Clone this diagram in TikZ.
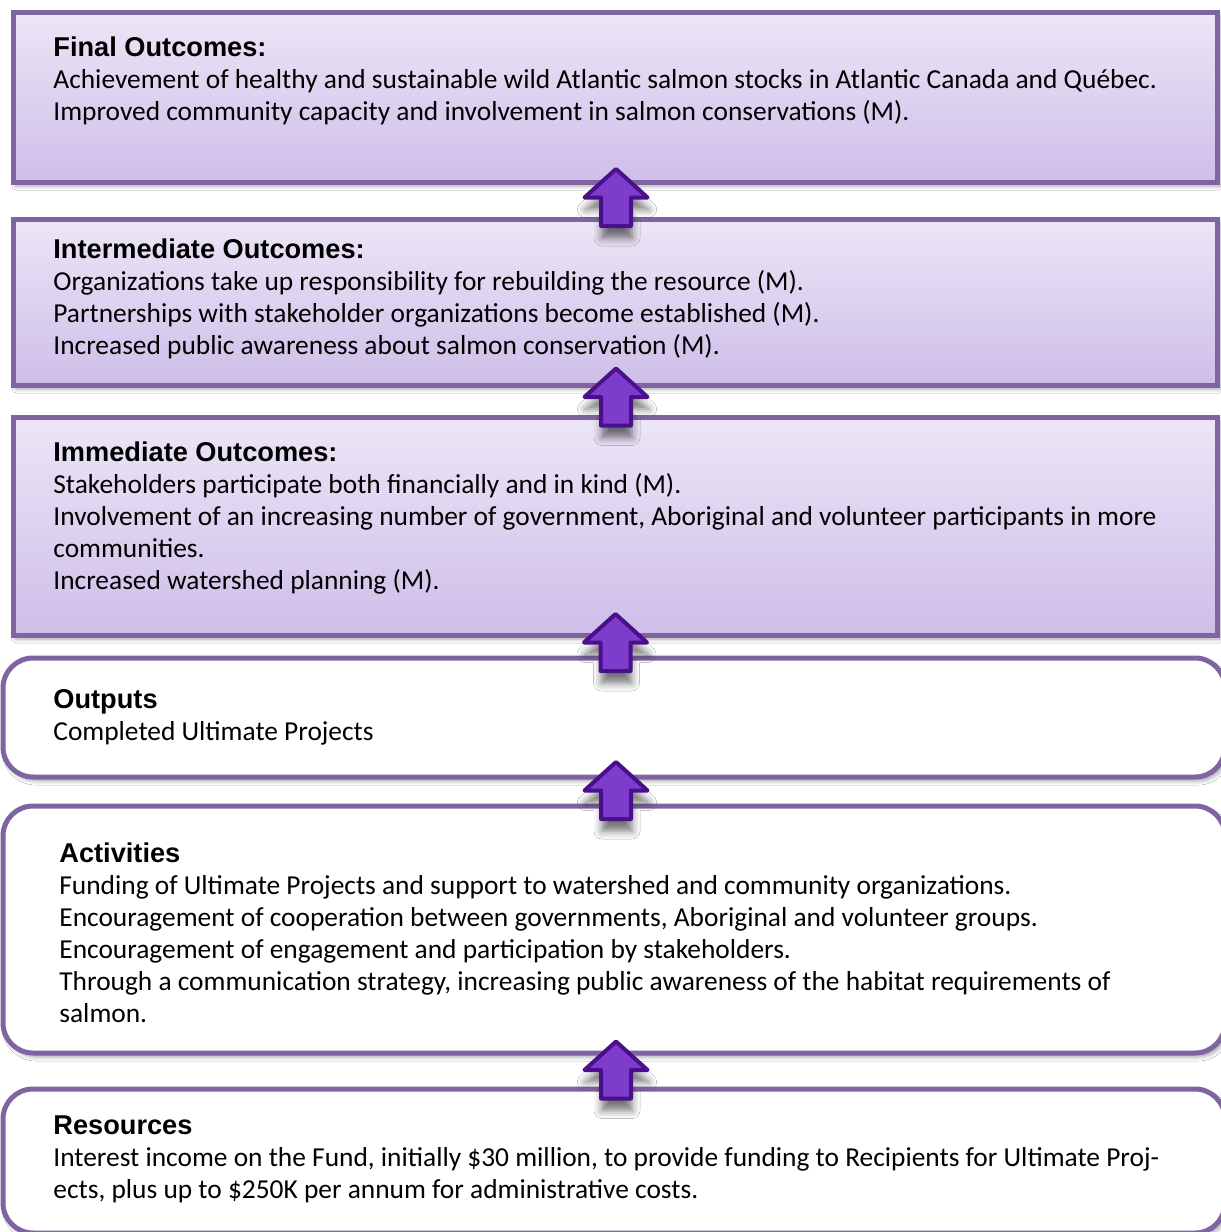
\documentclass[tikz,border=0pt]{standalone}
\usepackage{fontspec}
\setmainfont{Carlito}
\newfontfamily\hdfont{Liberation Sans}
\usetikzlibrary{calc,shadows.blur}
\definecolor{bord}{RGB}{128,100,162}
\definecolor{gtop}{RGB}{236,230,246}
\definecolor{gbot}{RGB}{206,190,233}
\definecolor{arrfill}{RGB}{126,60,204}
\definecolor{arrdraw}{RGB}{74,16,140}
\newcommand{\hd}[1]{{\hdfont\bfseries\fontsize{13.6}{16}\selectfont #1}}
\begin{document}
\begin{tikzpicture}[x=0.5pt,y=-0.5pt]
\tikzset{
  outbox/.style={draw=bord, line width=2.5pt, top color=gtop, bottom color=gbot, inner sep=0pt,
    blur shadow={shadow xshift=1.5pt, shadow yshift=-2pt, shadow blur radius=2pt, shadow opacity=35}},
  roundbox/.style={draw=bord, line width=2.5pt, fill=white, rounded corners=15pt, inner sep=0pt,
    blur shadow={shadow xshift=1.5pt, shadow yshift=-2pt, shadow blur radius=2pt, shadow opacity=35}},
  txt/.style={anchor=base west, align=left, inner sep=0pt, font=\fontsize{13.7}{16}\selectfont},
  blockarrow/.style={draw=arrdraw, fill=arrfill, line width=2pt, line join=round,
    blur shadow={shadow xshift=0.5pt, shadow yshift=-6pt, shadow blur radius=4pt, shadow opacity=55}},
}
\useasboundingbox (0,0) rectangle (1221,1232);
\clip (0,0) rectangle (1221,1232);
\fill[white] (0,0) rectangle (1221,1232);

% boxes
\node[outbox, minimum width=602pt, minimum height=85pt] (fin) at (615,97) {};
\node[outbox, minimum width=602pt, minimum height=83pt] (int) at (615,302) {};
\node[outbox, minimum width=602pt, minimum height=109pt] (imm) at (615,526) {};
\node[roundbox, minimum width=611pt, minimum height=59.5pt] (out) at (614,717.5) {};
\node[roundbox, minimum width=611pt, minimum height=123.5pt] (act) at (614,929.5) {};
\node[roundbox, minimum width=611pt, minimum height=72pt] (res) at (614,1161) {};

% texts (anchored at the baseline of the last line)
\node[txt] (t1) at (53,120) {\hd{Final Outcomes:}\\
Achievement of healthy and sustainable wild Atlantic salmon stocks in Atlantic Canada and Québec.\\
Improved community capacity and involvement in salmon conservations (M).};
\node[txt] (t2) at (53,354) {\hd{Intermediate Outcomes:}\\
Organizations take up responsibility for rebuilding the resource (M).\\
Partnerships with stakeholder organizations become established (M).\\
Increased public awareness about salmon conservation (M).};
\node[txt] (t3) at (53,589) {\hd{Immediate Outcomes:}\\
Stakeholders participate both financially and in kind (M).\\
Involvement of an increasing number of government, Aboriginal and volunteer participants in more\\
communities.\\
Increased watershed planning (M).};
\node[txt] (t4) at (53,740) {\hd{Outputs}\\
Completed Ultimate Projects};
\node[txt] (t5) at (59,1022) {\hd{Activities}\\
Funding of Ultimate Projects and support to watershed and community organizations.\\
Encouragement of cooperation between governments, Aboriginal and volunteer groups.\\
Encouragement of engagement and participation by stakeholders.\\
Through a communication strategy, increasing public awareness of the habitat requirements of\\
salmon.};
\node[txt] (t6) at (53,1198) {\hd{Resources}\\
Interest income on the Fund, initially \$30 million, to provide funding to Recipients for Ultimate Proj-\\
ects, plus up to \$250K per annum for administrative costs.};

% arrow anchor points, between consecutive boxes
\coordinate (a1) at ($($(fin.south)!0.5!(int.north)$)+(1,-3)$);
\coordinate (a2) at ($($(int.south)!0.5!(imm.north)$)+(1,-4)$);
\coordinate (a3) at ($($(imm.south)!0.5!(out.north)$)+(1,-4)$);
\coordinate (a4) at ($($(out.south)!0.5!(act.north)$)+(2,-1)$);
\coordinate (a5) at ($($(act.south)!0.5!(res.north)$)+(2,-1)$);
\foreach \c in {a1,a2,a3,a4,a5}{
  \draw[blockarrow] (\c) ++(-15,28.5) -- ++(0,-28.5) -- ++(-16.5,0) -- ++(31.5,-28.5)
    -- ++(31.5,28.5) -- ++(-16.5,0) -- ++(0,28.5) -- cycle;
}
\end{tikzpicture}
\end{document}
